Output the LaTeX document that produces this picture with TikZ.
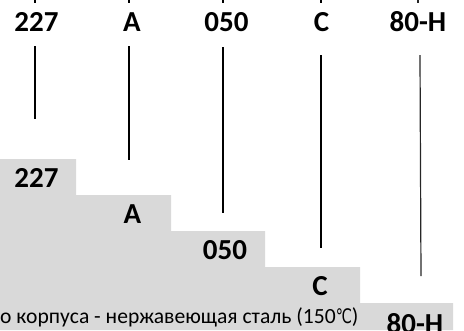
\documentclass[tikz,border=0pt]{standalone}
\usepackage{fontspec}
\usepackage{graphicx}
\setmainfont{Carlito}
\newfontfamily\celsiusfont{DejaVu Sans}
\begin{document}
\begin{tikzpicture}[x=1pt,y=-1pt,
  lbl/.style={font=\fontsize{29}{29}\selectfont\bfseries, inner sep=0pt, anchor=base},
  body/.style={font=\fontsize{21.6}{21.6}\selectfont, inner sep=0pt, anchor=base west},
  ln/.style={line width=2pt, black},
  lnthin/.style={line width=1.2pt, black!85}]
\useasboundingbox (0,0) rectangle (464,330);
\clip (0,0) rectangle (464,330);
% gray staircase
\fill[fill={rgb,255:red,217;green,217;blue,217}]
  (0,159) -- (76,159) -- (76,195) -- (171,195) -- (171,231) -- (265,231)
  -- (265,267) -- (360,267) -- (360,303) -- (453,303) -- (453,330) -- (0,330) -- cycle;
% top labels
\node[lbl] (t1) at (36.5,31) {227};
\node[lbl] (t2) at (132,31) {A};
\node[lbl] (t3) at (226.5,31) {050};
\node[lbl] (t4) at (321.5,31) {C};
\node[lbl] (t5) at (418,31) {80-H};
% bottom labels
\node[lbl] (b1) at (36.5,187) {227};
\node[lbl] (b2) at (132.5,223) {A};
\node[lbl] (b3) at (225,259) {050};
\node[lbl] (b4) at (320,295) {C};
\node[lbl] (b5) at (415,333) {80-H};
\node[body] (desc) at (0,323) {о корпуса - нержавеющая сталь (150\scalebox{0.72}[1]{\celsiusfont\fontsize{20}{20}\selectfont ℃})};
% tick coordinates
\coordinate (k1a) at (35,-2); \coordinate (k1b) at (35,3);
\coordinate (k2a) at (129,-2); \coordinate (k2b) at (129,3);
\coordinate (k3a) at (223,-2); \coordinate (k3b) at (223,3);
\coordinate (k4a) at (321,-2); \coordinate (k4b) at (321,3);
\coordinate (k5a) at (418,-2); \coordinate (k5b) at (418,3);
\draw[ln] (k1a) -- (k1b);
\draw[ln] (k2a) -- (k2b);
\draw[ln] (k3a) -- (k3b);
\draw[ln] (k4a) -- (k4b);
\draw[lnthin] (k5a) -- (k5b);
% leader line coordinates
\coordinate (l1a) at (35,46);  \coordinate (l1b) at (35,119);
\coordinate (l2a) at (129,46); \coordinate (l2b) at (129,160);
\coordinate (l3a) at (223,47); \coordinate (l3b) at (223,213);
\coordinate (l4a) at (321,55); \coordinate (l4b) at (321,248);
\coordinate (l5a) at (420,55); \coordinate (l5b) at (421,276);
\draw[ln] (l1a) -- (l1b);
\draw[ln] (l2a) -- (l2b);
\draw[ln] (l3a) -- (l3b);
\draw[ln] (l4a) -- (l4b);
\draw[lnthin] (l5a) -- (l5b);
\end{tikzpicture}
\end{document}
